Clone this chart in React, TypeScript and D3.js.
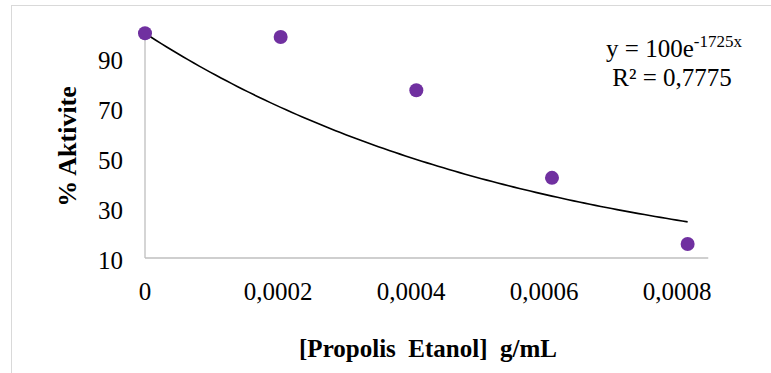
import React from "react";
import * as d3 from "d3";

const concentrations = [0, 0.000204, 0.000408, 0.000612, 0.000816];
const activity = [100, 98.5, 77.2, 42.1, 15.6];
const xTicks = [0, 0.0002, 0.0004, 0.0006, 0.0008];
const xTickLabels = ["0", "0,0002", "0,0004", "0,0006", "0,0008"];
const yTicks = [10, 30, 50, 70, 90];
const trendA = 100;
const trendB = -1725;
const equationMain = "y = 100e";
const equationExp = "-1725x";
const rSquared = "R² = 0,7775";
const xTitle = "[Propolis  Etanol]  g/mL";
const yTitle = "% Aktivite";

const W = 771;
const H = 373;
const FONT = "'Liberation Serif', 'Times New Roman', serif";

export default function App() {
  const x = d3.scaleLinear().domain([0, 0.0008]).range([145, 677]);
  const xMax = 0.000847;
  const y = d3.scaleLinear().domain([10, 100]).range([258, 33.3]);

  const xEnd = concentrations[concentrations.length - 1];
  const trendPts: [number, number][] = d3
    .range(0, 101)
    .map((i) => (xEnd * i) / 100)
    .map((v) => [v, trendA * Math.exp(trendB * v)]);
  const line = d3
    .line<[number, number]>()
    .x((d) => x(d[0]))
    .y((d) => y(d[1]));

  return (
    <svg
      width={W}
      height={H}
      style={{ position: "absolute", left: 0, top: 0, background: "#fff" }}
      fontFamily={FONT}
    >
      <rect x={11.5} y={5.5} width={900} height={500} fill="#fff" stroke="#d9d9d9" strokeWidth={1} />
      {/* axes */}
      <line x1={x(0)} x2={x(0)} y1={y(100)} y2={y(10)} stroke="#bfbfbf" strokeWidth={1.3} />
      <line x1={x(0)} x2={x(xMax)} y1={y(10)} y2={y(10)} stroke="#bfbfbf" strokeWidth={1.3} />
      {/* y ticks */}
      {yTicks.map((t) => (
        <text key={t} x={123} y={y(t) + 11} fontSize={25} textAnchor="end" fill="#000">
          {t}
        </text>
      ))}
      {/* x ticks */}
      {xTicks.map((t, i) => (
        <text key={t} x={x(t)} y={300} fontSize={25} textAnchor="middle" fill="#000">
          {xTickLabels[i]}
        </text>
      ))}
      {/* trendline */}
      <path d={line(trendPts) || ""} fill="none" stroke="#000" strokeWidth={1.6} />
      {/* points */}
      {concentrations.map((c, i) => (
        <circle key={i} cx={x(c)} cy={y(activity[i])} r={7} fill="#7030a0" />
      ))}
      {/* equation */}
      <text x={674} y={57} fontSize={25} textAnchor="middle" fill="#000">
        {equationMain}
        <tspan fontSize={17} dy={-10}>{equationExp}</tspan>
      </text>
      <text x={672} y={86} fontSize={25} textAnchor="middle" fill="#000">
        {rSquared}
      </text>
      {/* titles */}
      <text
        x={428}
        y={357}
        fontSize={25}
        fontWeight="bold"
        textAnchor="middle"
        style={{ whiteSpace: "pre" }}
        fill="#000"
      >
        {xTitle}
      </text>
      <text
        transform={`translate(76,146.5) rotate(-90)`}
        fontSize={26}
        fontWeight="bold"
        textAnchor="middle"
        fill="#000"
      >
        {yTitle}
      </text>
    </svg>
  );
}
